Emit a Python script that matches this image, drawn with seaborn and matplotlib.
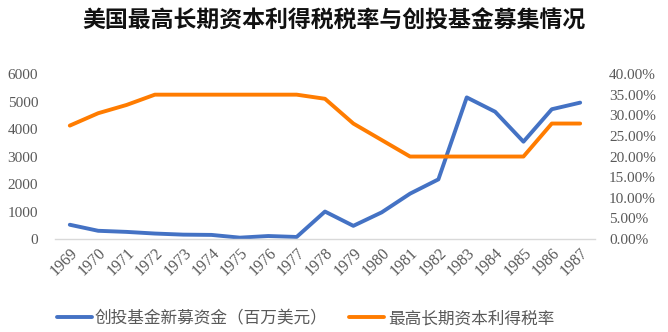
import matplotlib
matplotlib.use("Agg")
import matplotlib.pyplot as plt
import seaborn as sns
import pandas as pd
from matplotlib.ticker import FuncFormatter
from matplotlib.lines import Line2D

years = [str(y) for y in range(1969, 1988)]
vc_funds = [520, 300, 260, 200, 160, 150, 50, 110, 75, 1000, 480, 970, 1650, 2170, 5150, 4630, 3540, 4720, 4960]
tax_rate = [27.5, 30.5, 32.5, 35.0, 35.0, 35.0, 35.0, 35.0, 35.0, 34.0, 28.0, 24.0, 20.0, 20.0, 20.0, 20.0, 20.0, 28.0, 28.0]
name_vc = "创投基金新募资金（百万美元）"
name_tax = "最高长期资本利得税率"
title = "美国最高长期资本利得税税率与创投基金募集情况"

sns.set_theme(style="white")
cjk = ["Noto Sans CJK SC", "DejaVu Sans"]
serif = ["Liberation Serif", "DejaVu Serif"]
plt.rcParams["font.family"] = cjk

df = pd.DataFrame({"idx": range(len(years)), "year": years, "vc": vc_funds, "tax": tax_rate})

fig = plt.figure(figsize=(6.68, 3.32), dpi=100)
ax = fig.add_axes([0.082, 0.28, 0.809, 0.497])
ax2 = ax.twinx()

blue = "#4472C4"
orange = "#FF7C00"
sns.lineplot(data=df, x="idx", y="vc", ax=ax, color=blue, linewidth=2.8, solid_joinstyle="round", solid_capstyle="round")
sns.lineplot(data=df, x="idx", y="tax", ax=ax2, color=orange, linewidth=2.8, solid_joinstyle="round", solid_capstyle="round")

ax.set_xlim(-0.53, len(years) - 0.47)
ax.set_ylim(0, 6000)
ax2.set_ylim(0, 40)
ax.set_yticks(range(0, 6001, 1000))
ax2.set_yticks(range(0, 41, 5))
ax2.yaxis.set_major_formatter(FuncFormatter(lambda v, p: f"{v:.2f}%"))
ax.set_xticks(range(len(years)))
ax.set_xticklabels(years, rotation=45, ha="right", rotation_mode="anchor")

for a in (ax, ax2):
    for s in a.spines.values():
        s.set_visible(False)
    a.set_xlabel("")
    a.set_ylabel("")
    a.tick_params(length=0, colors="#595959")
ax.spines["bottom"].set_visible(True)
ax.spines["bottom"].set_color("#D9D9D9")
ax.spines["bottom"].set_linewidth(1)

for lbl in ax.get_yticklabels() + ax2.get_yticklabels():
    lbl.set_family(serif)
    lbl.set_fontsize(11)
    lbl.set_color("#595959")
for lbl in ax.get_xticklabels():
    lbl.set_family(serif)
    lbl.set_fontsize(11.5)
    lbl.set_color("#595959")
ax.tick_params(axis="y", pad=12)
ax2.tick_params(axis="y", pad=10)
ax.tick_params(axis="x", pad=4)

fig.text(0.5, 0.935, title, ha="center", va="center", fontsize=16.5, fontweight="bold", color="#111111", family=cjk)

handles = [Line2D([], [], color=blue, linewidth=2.8), Line2D([], [], color=orange, linewidth=2.8)]
leg = fig.legend(handles, [name_vc, name_tax], loc="center", bbox_to_anchor=(0.457, 0.04), ncol=2,
                 frameon=False, fontsize=12, handlelength=2.1, handletextpad=0.2, columnspacing=1.3)
for t in leg.get_texts():
    t.set_color("#595959")

fig.savefig("out.png", dpi=100)
